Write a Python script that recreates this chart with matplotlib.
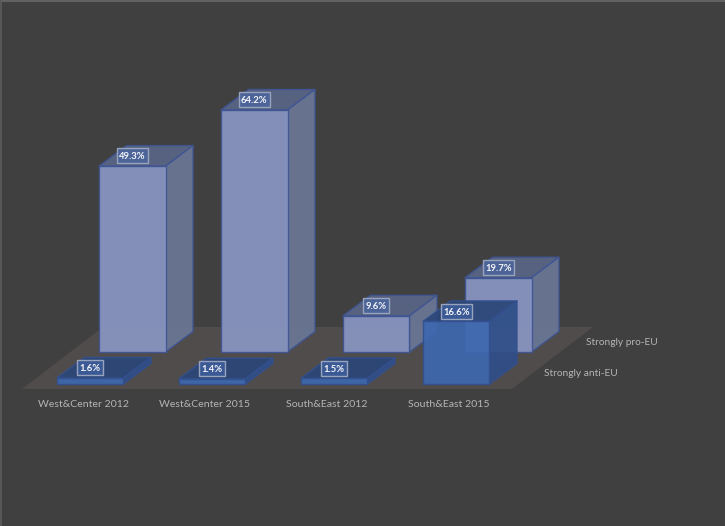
import matplotlib
matplotlib.use('Agg')
import matplotlib.pyplot as plt
from matplotlib.patches import Polygon, Rectangle

categories = ['West&Center 2012', 'West&Center 2015', 'South&East 2012', 'South&East 2015']
anti_eu = [1.6, 1.4, 1.5, 16.6]
pro_eu = [49.3, 64.2, 9.6, 19.7]
series_names = ['Strongly anti-EU', 'Strongly pro-EU']

# one x unit is one category (122 px), one y unit is 1 percent (3.77 px)
PX_X = 122
PX_Y = 3.77
BAR_W = 66.5 / PX_X
DEPTH_X = 27.5 / PX_X
DEPTH_Y = 20.5 / PX_Y
ROW_X = 42 / PX_X
ROW_Y = 32 / PX_Y

plt.rcParams['font.family'] = ['Lato', 'DejaVu Sans']

fig = plt.figure(figsize=(7.25, 5.26), dpi=100, facecolor='#404040')
ax = fig.add_axes([0, 0, 1, 1])
ax.set_xlim(-57 / PX_X, (725 - 57) / PX_X)
ax.set_ylim((384 - 526) / PX_Y, 384 / PX_Y)
ax.axis('off')

# lighter edge along the top and left of the slide
fig.add_artist(plt.Line2D([0, 1], [0.999, 0.999], color='#6a6a6a', lw=1.2))
fig.add_artist(plt.Line2D([0.001, 0.001], [0, 1], color='#5c5c5c', lw=1.2))

# floor
floor_x = [-35 / PX_X, 455 / PX_X, 536 / PX_X, 46 / PX_X]
floor_y = [-5 / PX_Y, -5 / PX_Y, 57 / PX_Y, 57 / PX_Y]
ax.add_patch(Polygon(list(zip(floor_x, floor_y)), facecolor='#4f4c4b', edgecolor='none', zorder=1))


def draw_bar(x, base, value, front, side, top, edge, z):
    x2 = x + BAR_W
    h = base + value
    faces = [
        ([(x, h), (x2, h), (x2 + DEPTH_X, h + DEPTH_Y), (x + DEPTH_X, h + DEPTH_Y)], top),
        ([(x2, base), (x2 + DEPTH_X, base + DEPTH_Y), (x2 + DEPTH_X, h + DEPTH_Y), (x2, h)], side),
        ([(x, base), (x2, base), (x2, h), (x, h)], front),
    ]
    for pts, col in faces:
        ax.add_patch(Polygon(pts, facecolor=col, edgecolor=edge, lw=1.0, alpha=0.92,
                             joinstyle='round', zorder=z))


def draw_label(x, base, value, fill, z):
    text = f'{value}%'
    cx = x + BAR_W / 2
    cy = base + value + 10.3 / PX_Y
    w = (len(text) * 5 + 6) / PX_X
    h = 15 / PX_Y
    ax.add_patch(Rectangle((cx - w / 2, cy - h / 2), w, h, facecolor=fill, edgecolor='#98a3bd',
                           lw=1.0, zorder=z))
    ax.text(cx, cy, text, color='#f4f5f8', fontsize=6.8, fontweight='bold',
            ha='center', va='center_baseline', zorder=z + 0.5)


# back row first, the front row sits over it
for i, v in enumerate(pro_eu):
    draw_bar(i + ROW_X, ROW_Y, v, '#8a97c3', '#6a7796', '#5a6687', '#3f5593', 2)
for i, v in enumerate(anti_eu):
    draw_bar(i, 0, v, '#3d68af', '#2f4e88', '#2b4678', '#33508f', 3)

for i, v in enumerate(pro_eu):
    draw_label(i + ROW_X, ROW_Y, v, '#4c6498', 4)
for i, v in enumerate(anti_eu):
    draw_label(i, 0, v, '#3b5a95', 5)

for i, name in enumerate(categories):
    ax.text(i + 26 / PX_X, -20.5 / PX_Y, name, color='#b5b5b5', fontsize=7.55, ha='center', va='center')

ax.text(487 / PX_X, 10 / PX_Y, series_names[0], color='#b5b5b5', fontsize=7.3, ha='left', va='center')
ax.text(529 / PX_X, 41.5 / PX_Y, series_names[1], color='#b5b5b5', fontsize=7.3, ha='left', va='center')

fig.savefig('out.png', dpi=100, facecolor=fig.get_facecolor())
